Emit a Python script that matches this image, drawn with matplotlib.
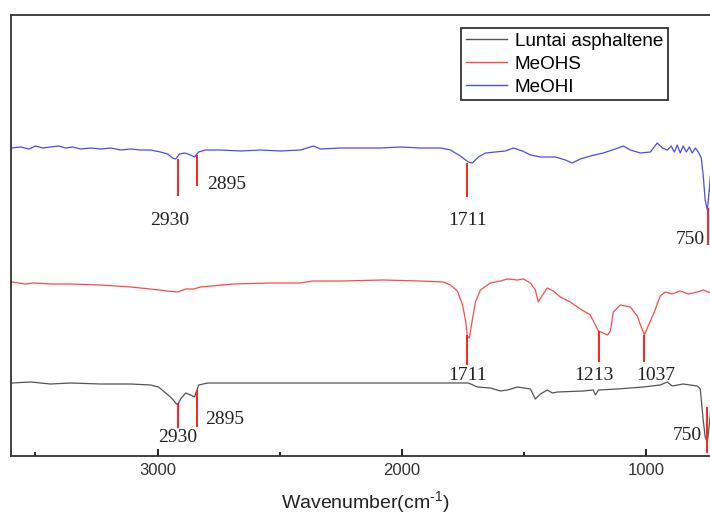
import matplotlib
matplotlib.use("Agg")
import matplotlib.pyplot as plt
from matplotlib.ticker import MultipleLocator

# wavenumber (cm-1) and offset intensity (arbitrary units)
blue_x = [3597, 3560, 3527, 3499, 3470, 3438, 3405, 3376, 3348, 3315, 3274, 3233, 3192, 3151,
          3110, 3069, 3029, 2988, 2959, 2939, 2926, 2910, 2889, 2865, 2849, 2832, 2804, 2742,
          2660, 2579, 2497, 2415, 2362, 2333, 2251, 2170, 2088, 2006, 1924, 1842, 1801, 1761,
          1728, 1712, 1687, 1658, 1618, 1577, 1544, 1507, 1474, 1433, 1372, 1331, 1303, 1270,
          1229, 1176, 1127, 1094, 1065, 1024, 983, 955, 934, 914, 898, 885, 873, 861, 849, 836,
          824, 812, 799, 787, 775, 767, 759, 750, 742, 734, 718]
blue_y = [308, 309, 307, 310, 308, 309, 310, 308, 309, 307, 308, 307, 308, 306,
          307, 306, 306, 304, 302, 298, 297, 302, 303, 301, 299, 304, 306, 306,
          305, 306, 305, 306, 310, 307, 308, 308, 308, 309, 308, 308, 306, 300,
          294, 293, 299, 303, 304, 305, 308, 305, 301, 299, 299, 296, 293, 297,
          300, 303, 307, 310, 306, 303, 304, 313, 308, 306, 310, 304, 311, 303, 310, 304,
          309, 303, 308, 304, 298, 281, 256, 246, 266, 291, 301]

red_x = [3597, 3540, 3507, 3438, 3356, 3233, 3110, 3029, 2959, 2918, 2885, 2853, 2824, 2689,
         2538, 2415, 2366, 2251, 2076, 1924, 1830, 1801, 1773, 1752, 1740, 1732, 1724, 1712,
         1699, 1679, 1638, 1597, 1568, 1527, 1503, 1474, 1454, 1442, 1425, 1405, 1380, 1352,
         1311, 1270, 1229, 1196, 1159, 1147, 1135, 1106, 1065, 1037, 1016, 1008, 992, 967,
         943, 922, 894, 861, 828, 791, 767, 738, 705]
red_y = [174, 172, 173, 172, 172, 171, 169, 167, 165, 164, 167, 167, 169, 172,
         173, 173, 175, 175, 176, 175, 174, 171, 165, 151, 136, 120, 118, 136,
         154, 166, 173, 175, 177, 176, 177, 173, 166, 154, 161, 168, 165, 159,
         154, 147, 141, 125, 121, 125, 144, 151, 149, 140, 126, 121, 130, 144,
         160, 164, 162, 165, 162, 164, 166, 163, 164]

black_x = [3597, 3519, 3438, 3356, 3233, 3110, 3029, 2996, 2967, 2943, 2926, 2918, 2906, 2885,
           2865, 2849, 2832, 2795, 2620, 2415, 2210, 2006, 1728, 1691, 1638, 1597, 1568, 1527,
           1474, 1454, 1433, 1405, 1384, 1364, 1258, 1217, 1208, 1196, 1119, 1012, 943, 914,
           894, 849, 791, 779, 767, 759, 750, 742, 734, 714]
black_y = [73, 74, 72, 73, 72, 72, 71, 69, 63, 58, 53, 51, 57, 63,
           61, 59, 71, 73, 73, 73, 73, 73, 73, 69, 68, 65, 66, 69,
           67, 57, 62, 66, 63, 64, 65, 66, 61, 66, 67, 69, 71, 74,
           70, 72, 70, 67, 36, 19, 14, 31, 51, 64]

series_names = ["Luntai asphaltene", "MeOHS", "MeOHI"]

# peak markers: position, line top, line bottom
mark_x = [2918, 2840, 1732, 746, 1732, 1192, 1008, 2918, 2840, 750]
mark_top = [297, 301, 293, 248, 121, 125, 121, 53, 66, 49]
mark_bot = [260, 270, 259, 211, 91, 94, 94, 28, 29, 3]

peak_text = ["2930", "2895", "1711", "750", "1711", "1213", "1037", "2930", "2895", "750"]
text_x = [2951, 2799, 1732, 759, 1732, 1213, 963, 2918, 2804, 771]
text_y = [235, 271, 235, 216, 80, 80, 80, 19, 36, 21]
text_ha = ["center", "left", "center", "right", "center", "center", "center", "center", "left", "right"]

plt.rcParams['font.family'] = ['Liberation Sans', 'DejaVu Sans']
plt.rcParams['mathtext.fontset'] = 'custom'
plt.rcParams['mathtext.rm'] = 'Liberation Sans'
plt.rcParams['mathtext.it'] = 'Liberation Sans'

fig = plt.figure(figsize=(7.1, 5.13), dpi=100)
ax = fig.add_axes([11 / 710, 57 / 513, 733 / 710, 441 / 513])

l1, = ax.plot(black_x, black_y, color="#555555", lw=0.9)
l2, = ax.plot(red_x, red_y, color="#ff4a4a", lw=0.9)
l3, = ax.plot(blue_x, blue_y, color="#4a4aff", lw=0.9)

ax.vlines(mark_x, mark_bot, mark_top, color="#ff2020", lw=1.4)
for t, x, y, ha in zip(peak_text, text_x, text_y, text_ha):
    ax.text(x, y, t, ha=ha, va="center", fontsize=14, color="#222222",
            family=["Liberation Serif", "DejaVu Serif"])

ax.set_xlim(3600, 600)
ax.set_ylim(0, 441)

ax.xaxis.set_major_locator(MultipleLocator(1000))
ax.xaxis.set_minor_locator(MultipleLocator(500))
ax.tick_params(axis="x", which="major", direction="in", length=5, width=1.2,
               labelsize=12, labelcolor="#333333", pad=5)
ax.tick_params(axis="x", which="minor", direction="in", length=3, width=1.2)
ax.set_yticks([])
for s in ax.spines.values():
    s.set_linewidth(1.3)
    s.set_color("#333333")

ax.set_xlabel("Wavenumber(cm$^{\\text{-1}}$)", fontsize=14, color="#222222")
ax.xaxis.set_label_coords(0.483, -0.074)

leg = fig.legend([l1, l2, l3], series_names, loc="upper left",
                 bbox_to_anchor=(461 / 710, 1 - 28 / 513), bbox_transform=fig.transFigure,
                 fontsize=13.6, frameon=True, fancybox=False, borderpad=0.25,
                 labelspacing=0.3, handlelength=2.2, handletextpad=0.4, borderaxespad=0)
leg.get_frame().set_edgecolor("black")
leg.get_frame().set_linewidth(1.3)
for line in leg.get_lines():
    line.set_linewidth(1.0)

fig.savefig("out.png", dpi=100)
